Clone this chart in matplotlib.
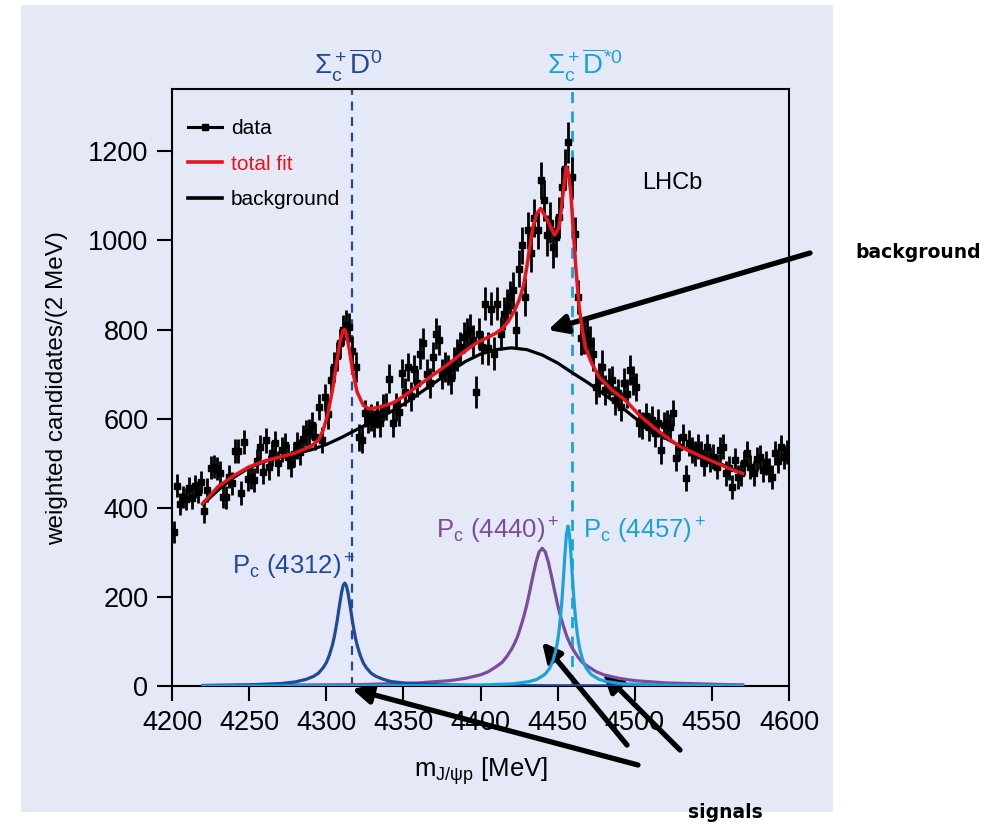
import matplotlib
matplotlib.use("Agg")
import matplotlib.pyplot as plt
import numpy as np
from matplotlib.lines import Line2D
from matplotlib.patches import Rectangle

plt.rcParams['font.family'] = ['Liberation Sans', 'DejaVu Sans']
plt.rcParams['mathtext.fontset'] = 'custom'
plt.rcParams['mathtext.rm'] = 'Liberation Sans'
plt.rcParams['mathtext.it'] = 'Liberation Sans'
plt.rcParams['mathtext.bf'] = 'Liberation Sans:bold'

# ---- data (weighted candidates per 2 MeV bin) ----
mass = np.arange(4201, 4600, 2)
counts = [
    345, 450, 408, 425, 420, 445, 422, 448, 435, 458,      # 4201-4219
    392, 440, 490, 492, 488, 478, 425, 424, 470, 455,      # 4221-4239
    527, 528, 433, 548, 465, 470, 462, 505, 536, 480,      # 4241-4259
    552, 491, 522, 545, 500, 530, 540, 515, 498, 520,      # 4261-4279
    540, 525, 555, 568, 570, 585, 560, 626, 552, 648,      # 4281-4299
    610, 686, 716, 740, 769, 799, 810, 805, 753, 716,      # 4301-4319
    558, 552, 612, 597, 603, 590, 610, 590, 625, 627,      # 4321-4339
    690, 590, 626, 615, 702, 660, 716, 650, 711, 680,      # 4341-4359
    746, 769, 700, 680, 739, 791, 776, 700, 716, 709,      # 4361-4379
    691, 725, 743, 760, 783, 791, 799, 776, 660, 791,      # 4381-4399
    760, 858, 758, 847, 746, 858, 791, 836, 854, 873,      # 4401-4419
    888, 799, 937, 989, 873, 1023, 971, 1050, 1023, 1135,  # 4421-4439
    1090, 1012, 1040, 985, 1008, 1052, 1120, 1160, 1220, 1142,  # 4441-4459
    1015, 873, 781, 784, 791, 769, 745, 671, 686, 716,     # 4461-4479
    664, 680, 686, 641, 657, 627, 680, 656, 709, 686,      # 4481-4499
    671, 590, 585, 605, 581, 597, 567, 590, 529, 585,      # 4501-4519
    590, 581, 612, 511, 537, 560, 467, 545, 530, 522,      # 4521-4539
    537, 522, 500, 537, 508, 515, 492, 530, 537, 477,      # 4541-4559
    490, 447, 508, 470, 477, 500, 522, 492, 477, 510,      # 4561-4579
    515, 485, 500, 484, 470, 522, 505, 537, 515, 525,      # 4581-4599
]
# error bar half-length, one value per 20 MeV row
row_err = [25, 26, 27, 28, 30, 33, 30, 32, 34, 35,
           37, 42, 46, 38, 33, 31, 29, 28, 27, 27]
errors = np.repeat(row_err, 10)

bkg_m = [4220, 4230, 4240, 4250, 4260, 4270, 4280, 4290, 4300, 4310, 4320, 4330,
         4340, 4350, 4360, 4370, 4380, 4390, 4400, 4410, 4420, 4430, 4440, 4450,
         4460, 4470, 4480, 4490, 4500, 4510, 4520, 4530, 4540, 4550, 4560, 4570]
bkg_v = [408, 440, 468, 490, 504, 514, 521, 530, 542, 558, 576, 594,
         612, 632, 656, 680, 705, 728, 745, 755, 759, 755, 743, 725,
         702, 680, 655, 630, 602, 577, 556, 538, 522, 507, 492, 477]

fit_m = [4220, 4230, 4240, 4250, 4260, 4270, 4280, 4290, 4295, 4298, 4301, 4304,
         4307, 4309, 4311, 4312, 4313, 4315, 4317, 4320, 4324, 4328, 4335, 4343,
         4350, 4360, 4370, 4380, 4390, 4397, 4405, 4410, 4414, 4418, 4422, 4425,
         4428, 4430, 4434, 4436.5, 4439, 4443.5, 4448, 4451, 4453, 4455.6, 4457,
         4458.5, 4460, 4462, 4464, 4466, 4468, 4472, 4477, 4485, 4494, 4503, 4512,
         4520, 4529, 4540, 4550, 4560, 4570]
fit_v = [410, 448, 472, 492, 505, 514, 523, 538, 552, 574, 610, 664,
         730, 775, 799, 800, 790, 755, 709, 660, 630, 622, 626, 635,
         650, 675, 700, 725, 752, 769, 783, 792, 802, 818, 842, 866,
         900, 940, 1030, 1060, 1072, 1045, 1012, 1030, 1090, 1165, 1150,
         1110, 1030, 930, 850, 800, 760, 725, 693, 665, 641, 608, 581,
         560, 538, 520, 505, 490, 477]

p4312_m = [4220, 4250, 4270, 4280, 4287, 4292, 4295, 4298, 4300, 4302, 4304, 4305,
           4306, 4307, 4308, 4309, 4310, 4311, 4312, 4313, 4314, 4315, 4316, 4317,
           4318, 4319, 4320, 4322, 4324, 4326, 4329, 4332, 4337, 4342, 4352, 4372,
           4400, 4450, 4570]
p4312_v = [1.2, 2.7, 5.4, 9.2, 15, 22, 29, 41, 52, 69, 92, 107,
           125, 145, 168, 190, 211, 226, 231, 226, 211, 190, 168, 145,
           125, 107, 92, 69, 52, 41, 29, 22, 15, 10, 6, 3,
           1.2, 0.5, 0]

p4440_m = [4220, 4320, 4360, 4380, 4390, 4400, 4405, 4410, 4414, 4417, 4420, 4422,
           4424, 4426, 4428, 4430, 4432, 4434, 4436, 4438, 4440, 4442, 4444, 4446,
           4448, 4450, 4452, 4454, 4456, 4458, 4460, 4463, 4466, 4470, 4475, 4480,
           4490, 4500, 4520, 4560, 4570]
p4440_v = [1, 3, 7, 12, 17, 25, 32, 43, 53, 66, 82, 95,
           111, 132, 155, 182, 214, 247, 278, 301, 309, 301, 278, 247,
           214, 182, 155, 132, 111, 95, 82, 66, 53, 43, 32, 25,
           17, 12, 7, 3, 2.6]

p4457_m = [4220, 4346.7, 4396.7, 4421.7, 4431.7, 4436.7, 4441.7, 4444.7, 4446.7,
           4448.7, 4449.7, 4450.7, 4451.7, 4452.7, 4453.7, 4454.7, 4455.7, 4456.7,
           4457.7, 4458.7, 4459.7, 4460.7, 4461.7, 4462.7, 4463.7, 4464.7, 4466.7,
           4468.7, 4471.7, 4476.7, 4481.7, 4491.7, 4516.7, 4570]
p4457_v = [0, 0.5, 1.7, 5, 10, 15, 26, 39, 54,
           78, 95, 118, 149, 188, 238, 293, 340, 359,
           340, 293, 238, 188, 149, 118, 95, 78, 54,
           39, 26, 15, 10, 5, 1.7, 0.6]

thr_m = [4316.5, 4459.3]
x_ticks = [4200, 4250, 4300, 4350, 4400, 4450, 4500, 4550, 4600]
y_ticks = [0, 200, 400, 600, 800, 1000, 1200]

# colours
PANEL = '#e5e8f6'
DBLUE = '#1f4a9c'
CYAN = '#1aa3d8'
PURPLE = '#7b4c9c'
RED = '#e8141c'

W, H = 1004, 824
fig = plt.figure(figsize=(W / 100, H / 100), dpi=100)
fig.add_artist(Rectangle((21 / W, 1 - 812 / H), (833 - 21) / W, (812 - 5) / H,
                         transform=fig.transFigure, facecolor=PANEL,
                         edgecolor='none', zorder=-10))

ax = fig.add_axes([172 / W, 1 - 686 / H, (789 - 172) / W, (686 - 89) / H])
ax.set_facecolor('none')

ax.errorbar(mass, counts, yerr=errors, fmt='s', color='black', ms=4,
            elinewidth=2.0, capsize=0, zorder=3)
ax.plot(bkg_m, bkg_v, color='black', lw=2.3, zorder=4)
ax.plot(fit_m, fit_v, color=RED, lw=2.5, zorder=5)
ax.plot(p4440_m, p4440_v, color=PURPLE, lw=2.3, zorder=4)
ax.plot(p4457_m, p4457_v, color=CYAN, lw=2.3, zorder=5)
ax.plot(p4312_m, p4312_v, color=DBLUE, lw=2.3, zorder=4)

ax.axvline(thr_m[0], color=DBLUE, lw=1.6, ls=(0, (4, 3)), zorder=2)
ax.axvline(thr_m[1], color=CYAN, lw=2.0, ls=(0, (4, 3)), zorder=2)

ax.set_xlim(4200, 4600)
ax.set_ylim(0, 1340)
ax.set_xticks(x_ticks)
ax.set_yticks(y_ticks)
ax.tick_params(direction='out', length=11, width=1.5, labelsize=19.5, pad=6)
for s in ax.spines.values():
    s.set_linewidth(1.5)

ax.set_xlabel(r'm$_{\mathrm{J}/\psi\mathrm{p}}$ [MeV]', fontsize=18.5, labelpad=14)
fig.text(57 / W, 1 - 388 / H, 'weighted candidates/(2 MeV)', rotation=90,
         ha='center', va='center', fontsize=17.5)

handles = [Line2D([], [], color='black', marker='s', ms=4.5, lw=2.2),
           Line2D([], [], color=RED, lw=2.6),
           Line2D([], [], color='black', lw=2.6)]
ax.legend(handles, ['data', 'total fit', 'background'], loc='upper left',
          bbox_to_anchor=(0.026, 0.95), frameon=False, fontsize=15,
          handlelength=1.65, handletextpad=0.4, labelspacing=0.8,
          borderpad=0, borderaxespad=0, numpoints=1,
          labelcolor=['black', RED, 'black'])

ax.text(4505, 1128, 'LHCb', fontsize=17, va='center', ha='left')

ax.text(4239, 251, r'P$_\mathrm{c}$ (4312)$^+$', color=DBLUE, fontsize=18.5,
        ha='left', va='baseline')
ax.text(4371.4, 332, r'P$_\mathrm{c}$ (4440)$^+$', color=PURPLE, fontsize=18.5,
        ha='left', va='baseline')
ax.text(4466.2, 332, r'P$_\mathrm{c}$ (4457)$^+$', color=CYAN, fontsize=18.5,
        ha='left', va='baseline')

fig.text(314 / W, 1 - 75 / H, r'$\Sigma_\mathrm{c}^+\overline{\mathrm{D}}^0$',
         color=DBLUE, fontsize=20, ha='left', va='baseline')
fig.text(547 / W, 1 - 75 / H, r'$\Sigma_\mathrm{c}^+\overline{\mathrm{D}}^{*0}$',
         color=CYAN, fontsize=20, ha='left', va='baseline')

# annotation arrows (figure pixel coordinates)
arrows = [((810, 253), (548, 330)),
          ((638, 765), (352, 689)),
          ((627, 745), (542, 642)),
          ((680, 750), (603, 673))]
for (tx, ty), (hx, hy) in arrows:
    ax.annotate('', xy=(hx, H - hy), xycoords='figure pixels',
                xytext=(tx, H - ty), textcoords='figure pixels',
                arrowprops=dict(arrowstyle='-|>', lw=3.8, color='black',
                                mutation_scale=28, shrinkA=0, shrinkB=0),
                annotation_clip=False)

fig.text(855 / W, 1 - 253 / H, 'background', fontsize=13.5, fontweight='bold',
         family='DejaVu Sans', va='center', ha='left')
fig.text(688 / W, 1 - 813 / H, 'signals', fontsize=13.5, fontweight='bold',
         family='DejaVu Sans', va='center', ha='left')

fig.savefig('out.png', dpi=100)
